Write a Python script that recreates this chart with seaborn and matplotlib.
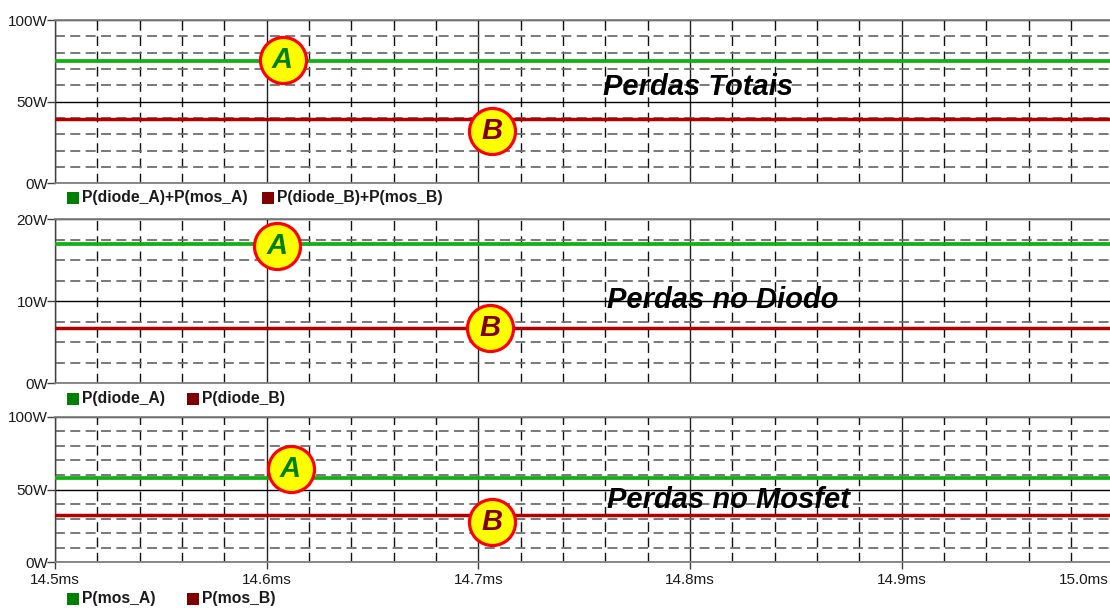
import numpy as np
import pandas as pd
import matplotlib
matplotlib.use("Agg")
import matplotlib.pyplot as plt
import seaborn as sns
from matplotlib.patches import Rectangle
from matplotlib.transforms import ScaledTranslation

# ---------------- data ----------------
time_ms = [14.5, 15.0]
total_A = [75.0, 75.0]
total_B = [39.3, 39.3]
diode_A = [17.0, 17.0]
diode_B = [6.7, 6.7]
mos_A = [58.0, 58.0]
mos_B = [32.3, 32.3]

x_ticks = [14.5, 14.6, 14.7, 14.8, 14.9, 15.0]
x_tick_labels = ["14.5ms", "14.6ms", "14.7ms", "14.8ms", "14.9ms", "15.0ms"]

panel_titles = ["Perdas Totais", "Perdas no Diodo", "Perdas no Mosfet"]
legend_A = ["P(diode_A)+P(mos_A)", "P(diode_A)", "P(mos_A)"]
legend_B = ["P(diode_B)+P(mos_B)", "P(diode_B)", "P(mos_B)"]
y_max = [100, 20, 100]
y_major = [[0, 50, 100], [0, 10, 20], [0, 50, 100]]
y_major_labels = [["0W", "50W", "100W"], ["0W", "10W", "20W"], ["0W", "50W", "100W"]]
y_minor_step = [10, 2.5, 10]
series_A = [total_A, diode_A, mos_A]
series_B = [total_B, diode_B, mos_B]

# ---------------- style ----------------
sns.set_theme(style="white")
plt.rcParams["font.family"] = ["Liberation Sans", "DejaVu Sans"]

W, H = 1110, 608
fig = plt.figure(figsize=(W / 100, H / 100), dpi=100)

LINE_GREEN = "#12b012"
LINE_RED = "#b00000"
LEG_GREEN = "#008000"
LEG_RED = "#800000"

# panel pixel geometry (top, bottom)
panels_px = [(20.0, 183.3), (219.3, 383.3), (416.7, 562.3)]
left_px, right_px = 55.0, 1113.3

# circle label positions (data coords) and title positions (pixels)
circles = [
    [(14.6075, 75.3, "A"), (14.7066, 32.0, "B")],
    [(14.6047, 16.7, "A"), (14.7057, 6.8, "B")],
    [(14.6113, 64.0, "A"), (14.7066, 27.7, "B")],
]
title_px = [(603, 95), (607, 308), (607, 508)]
legend_y_px = [198, 399, 599]
legend_B_x_px = [262, 187, 187]

axes = []
for i in range(3):
    top, bot = panels_px[i]
    ax = fig.add_axes([left_px / W, 1 - bot / H, (right_px - left_px) / W, (bot - top) / H])
    axes.append(ax)
    df = pd.DataFrame({"t": time_ms, "A": series_A[i], "B": series_B[i]})
    sns.lineplot(data=df, x="t", y="A", ax=ax, color=LINE_GREEN, lw=2.7, zorder=4)
    sns.lineplot(data=df, x="t", y="B", ax=ax, color=LINE_RED, lw=2.5, zorder=4)

    ax.set_xlim(14.5, 15.0)
    ax.set_ylim(0, y_max[i])
    ax.set_xlabel("")
    ax.set_ylabel("")

    ax.set_yticks(y_major[i])
    ax.set_yticklabels(y_major_labels[i])
    ax.set_yticks(np.arange(0, y_max[i] + 0.001, y_minor_step[i]), minor=True)
    ax.set_xticks(x_ticks)
    ax.set_xticks(np.arange(14.5, 15.0001, 0.02), minor=True)

    # grid
    ax.grid(False)
    ax.yaxis.grid(True, which="minor", color="#6e6e6e", lw=1.3, ls=(0, (5.5, 3.0)), zorder=1)
    ax.xaxis.grid(True, which="minor", color="#101010", lw=1.0, ls=(0, (7, 4)), zorder=1)
    ax.yaxis.grid(True, which="major", color="#000000", lw=1.0, ls="-", zorder=2)
    ax.xaxis.grid(True, which="major", color="#202020", lw=1.0, ls="-", zorder=2)
    ax.set_axisbelow(True)

    for s in ["top", "bottom"]:
        ax.spines[s].set_color("#808080")
        ax.spines[s].set_linewidth(1.3)
    ax.spines["left"].set_color("#404040")
    ax.spines["left"].set_linewidth(1.0)
    ax.spines["right"].set_visible(False)

    ax.tick_params(axis="y", which="major", length=6, width=1, color="#404040",
                   pad=-1, labelsize=11, labelcolor="#1a1a1a", left=True)
    ax.tick_params(axis="y", which="minor", length=0)
    ax.tick_params(axis="x", which="minor", length=0)
    if i < 2:
        ax.tick_params(axis="x", which="major", length=0, labelbottom=False)
    else:
        ax.set_xticklabels(x_tick_labels)
        ax.tick_params(axis="x", which="major", length=5, width=1, color="#404040",
                       pad=3, labelsize=11, labelcolor="#1a1a1a", bottom=True)
        last = ax.get_xticklabels()[-1]
        last.set_transform(last.get_transform() + ScaledTranslation(-0.30, 0, fig.dpi_scale_trans))

    # circle annotations
    for (cx, cy, letter) in circles[i]:
        ax.scatter([cx], [cy], s=1100, marker="o", facecolor="#ffff00",
                   edgecolor="#ff0000", linewidths=2.3, zorder=6, clip_on=False)
        ax.text(cx, cy, letter, ha="center", va="center", fontsize=21,
                fontweight="bold", fontstyle="italic",
                color=LEG_GREEN if letter == "A" else LEG_RED, zorder=7)

    # panel title
    tx, ty = title_px[i]
    fig.text(tx / W, 1 - ty / H, panel_titles[i], ha="left", va="baseline",
             fontsize=21, fontweight="bold", fontstyle="italic", color="#000000", zorder=8)

    # legend below panel
    ly = legend_y_px[i]
    for (sx, col, lab) in [(67, LEG_GREEN, legend_A[i]), (legend_B_x_px[i], LEG_RED, legend_B[i])]:
        fig.patches.append(Rectangle((sx / W, 1 - (ly + 6) / H), 12 / W, 12 / H,
                                     transform=fig.transFigure, facecolor=col,
                                     edgecolor="none"))
        fig.text((sx + 15) / W, 1 - ly / H, lab, ha="left", va="center",
                 fontsize=11.3, fontweight="bold", color="#1a1a1a")

fig.savefig("out.png", dpi=100)
